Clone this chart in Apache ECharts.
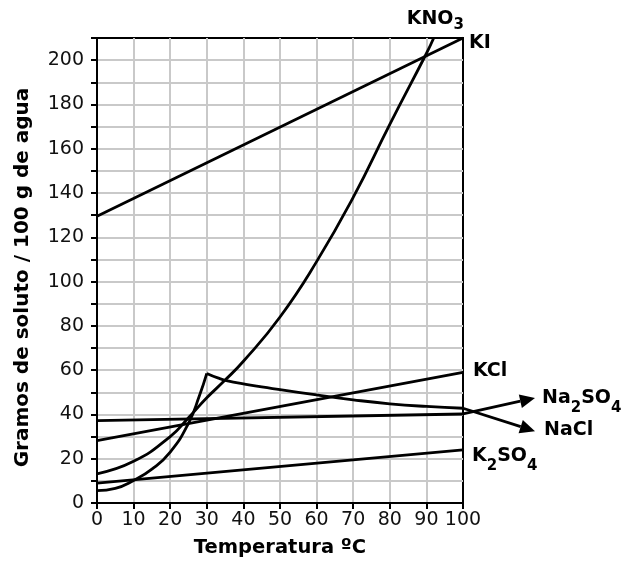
<!DOCTYPE html>
<html>
<head>
<meta charset="utf-8">
<script src="https://cdn.jsdelivr.net/npm/echarts@6/dist/echarts.min.js"></script>
<style>
  html, body { margin: 0; padding: 0; background: #fff; }
  #chart { width: 629px; height: 563px; }
</style>
</head>
<body>
<div id="chart"></div>
<script>
  // solubilidad en g / 100 g de agua, por temperatura (ºC)
  const kiTemp = [0, 100];
  const kiVal = [129.5, 210];
  const kno3Temp = [0, 10, 20, 25, 30, 35, 40, 50, 60, 70, 80, 90, 92];
  const kno3Val = [13.2, 18.8, 30, 38.5, 47.5, 55.5, 64, 84, 109, 138, 171, 203, 210];
  const kclTemp = [0, 100];
  const kclVal = [28.2, 59];
  const naclTemp = [0, 100];
  const naclVal = [37.2, 40.2];
  const k2so4Temp = [0, 100];
  const k2so4Val = [9, 24];
  // Na2SO4 tiene un pico a 30 ºC, se dibuja en dos tramos
  const na2so4UpTemp = [0, 5, 10, 15, 20, 25, 28, 30];
  const na2so4UpVal = [5.6, 6.6, 10.2, 15.3, 23, 36, 48.5, 58.5];
  const na2so4DownTemp = [30, 33, 36, 40, 45, 50, 60, 70, 80, 90, 100];
  const na2so4DownVal = [58.5, 56.5, 55, 53.8, 52.4, 51.2, 48.8, 46.6, 44.8, 43.6, 42.8];

  const xRange = [0, 100];
  const yRange = [0, 210];
  const step = 10;

  const FONT = 'DejaVu Sans';

  function pairs(t, v) {
    return t.map((x, i) => [x, v[i]]);
  }
  function last(t, v) {
    return [t[t.length - 1], v[v.length - 1]];
  }

  const rich = {
    m: {fontFamily: FONT, fontWeight: 'bold', fontSize: 19, lineHeight: 22, verticalAlign: 'top', fill: '#000'},
    s: {fontFamily: FONT, fontWeight: 'bold', fontSize: 15, lineHeight: 16, verticalAlign: 'top', padding: [12, 0, 0, 0], fill: '#000'},
    t: {fontFamily: FONT, fontWeight: 'bold', fontSize: 15, lineHeight: 16, verticalAlign: 'top', padding: [8, 0, 0, 0], fill: '#000'}
  };

  // etiquetas junto al final de cada curva (desplazamientos en px)
  const notes = [
    {at: last(kiTemp, kiVal), text: '{m|KI}', dx: 6, dy: 7},
    {at: last(kno3Temp, kno3Val), text: '{m|KNO}{t|3}', dx: -27, dy: -17},
    {at: last(kclTemp, kclVal), text: '{m|KCl}', dx: 10, dy: 0},
    {at: last(k2so4Temp, k2so4Val), text: '{m|K}{s|2}{m|SO}{s|4}', dx: 9, dy: 8},
    {at: last(naclTemp, naclVal), text: '{m|Na}{s|2}{m|SO}{s|4}', arrow: [72, -16], dx: 7, dy: 2},
    {at: last(na2so4DownTemp, na2so4DownVal), text: '{m|NaCl}', arrow: [72, 23], dx: 9, dy: 0}
  ];

  function renderNote(params, api) {
    let n = notes[params.dataIndex];
    let p = api.coord([api.value(0), api.value(1)]);
    let children = [];
    let tx = p[0], ty = p[1];
    if (n.arrow) {
      let ex = p[0] + n.arrow[0], ey = p[1] + n.arrow[1];
      let len = Math.hypot(n.arrow[0], n.arrow[1]);
      let ux = n.arrow[0] / len, uy = n.arrow[1] / len;
      let bx = ex - ux * 15, by = ey - uy * 15;
      children.push({
        type: 'line',
        shape: {x1: p[0], y1: p[1], x2: bx, y2: by},
        style: {stroke: '#000', lineWidth: 2.8}
      });
      children.push({
        type: 'polygon',
        shape: {points: [[ex, ey], [bx - uy * 7, by + ux * 7], [bx + uy * 7, by - ux * 7]]},
        style: {fill: '#000'}
      });
      tx = ex;
      ty = ey;
    }
    children.push({
      type: 'text',
      x: tx + n.dx,
      y: ty + n.dy - 11,
      style: {text: n.text, rich: rich, align: 'left', verticalAlign: 'top'}
    });
    return {type: 'group', children: children};
  }

  function curve(name, t, v, smooth) {
    return {
      name: name,
      type: 'line',
      data: pairs(t, v),
      smooth: smooth,
      symbol: 'none',
      lineStyle: {color: '#000', width: 2.8},
      z: 3
    };
  }

  let chart = echarts.init(document.getElementById('chart'));
  let axisCommon = {
    type: 'value',
    interval: step,
    nameLocation: 'middle',
    axisLine: {lineStyle: {color: '#000', width: 2}},
    axisTick: {length: 6, lineStyle: {color: '#000', width: 2}},
    splitLine: {showMinLine: false, showMaxLine: false, lineStyle: {color: '#c9c9c9', width: 2}}
  };
  let option = {
    animation: false,
    grid: {left: 97, right: 166, top: 38, bottom: 59, show: true, borderColor: '#000', borderWidth: 2},
    xAxis: Object.assign({}, axisCommon, {
      min: xRange[0],
      max: xRange[1],
      name: 'Temperatura ºC',
      nameGap: 35,
      nameTextStyle: {fontFamily: FONT, fontWeight: 'bold', fontSize: 19.5, color: '#000'},
      axisLabel: {fontFamily: FONT, fontSize: 19, color: '#111', margin: 8}
    }),
    yAxis: Object.assign({}, axisCommon, {
      min: yRange[0],
      max: yRange[1],
      name: 'Gramos de soluto / 100 g de agua',
      nameGap: 64,
      nameTextStyle: {fontFamily: FONT, fontWeight: 'bold', fontSize: 20, color: '#000', padding: [0, 14, 0, 0]},
      axisLabel: {
        fontFamily: FONT, fontSize: 19, color: '#111', margin: 13,
        formatter: function (v) {
          return v % 20 === 0 ? String(v) : '';
        }
      }
    }),
    series: [
      curve('KI', kiTemp, kiVal, false),
      curve('KNO3', kno3Temp, kno3Val, true),
      curve('KCl', kclTemp, kclVal, false),
      curve('NaCl', naclTemp, naclVal, false),
      curve('K2SO4', k2so4Temp, k2so4Val, false),
      curve('Na2SO4', na2so4UpTemp, na2so4UpVal, true),
      curve('Na2SO4', na2so4DownTemp, na2so4DownVal, true),
      {
        name: 'etiquetas',
        type: 'custom',
        renderItem: renderNote,
        data: notes.map(n => n.at),
        clip: false,
        silent: true,
        z: 5
      }
    ]
  };
  chart.setOption(option);
</script>
</body>
</html>
